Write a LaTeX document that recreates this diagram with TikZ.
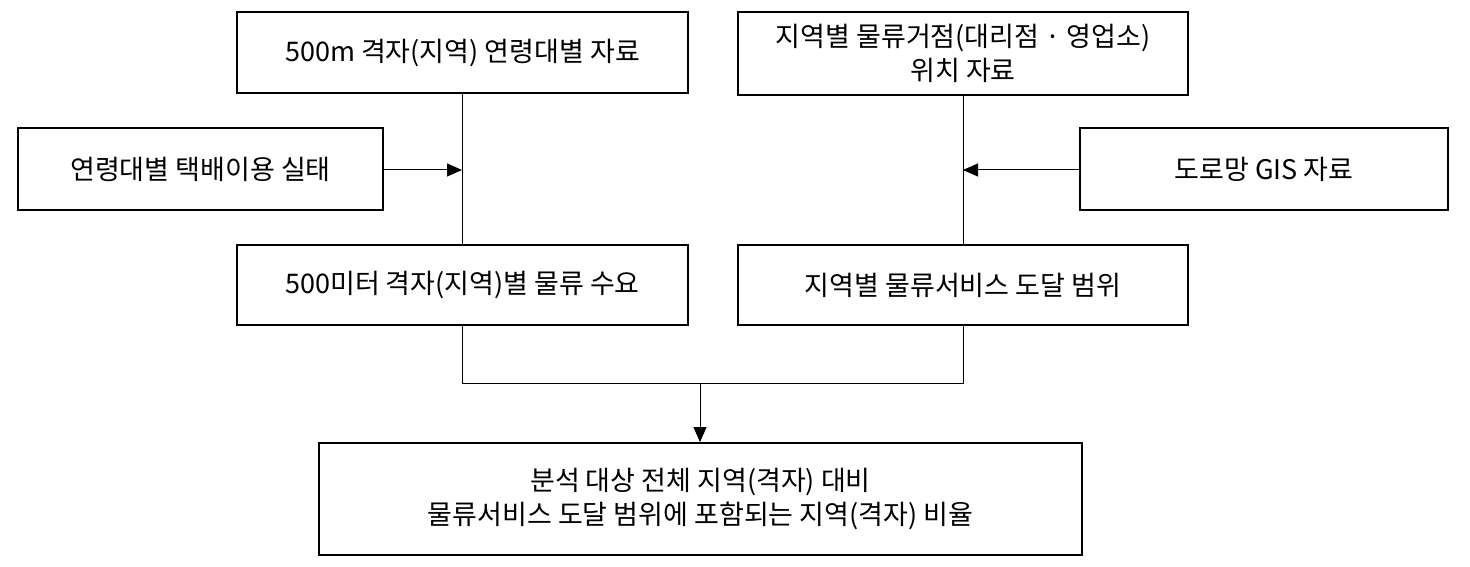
\documentclass[tikz,border=0pt]{standalone}
\usepackage{fontspec}
\setmainfont{Noto Sans CJK KR}
\usetikzlibrary{arrows.meta}
\begin{document}
\begin{tikzpicture}[x=1pt,y=-1pt,
  box/.style={draw,line width=1.8pt,minimum width=#1,align=center,inner sep=0pt,font=\fontsize{27}{34}\selectfont},
  ln/.style={line width=1pt},
  ar/.style={ln,-{Triangle[length=15pt,width=13pt]}}]
\useasboundingbox (0,0) rectangle (1470,567);
\node[box=451pt,minimum height=81pt] (A) at (462.5,52.5) {500m 격자(지역) 연령대별 자료};
\node[box=450pt,minimum height=83pt] (B) at (963,53.5) {지역별 물류거점(대리점 · 영업소)\\위치 자료};
\node[box=365pt,minimum height=82pt] (C) at (200.5,169) {연령대별 택배이용 실태};
\node[box=368pt,minimum height=82pt] (D) at (1264,169) {도로망 GIS 자료};
\node[box=451pt,minimum height=80pt] (E) at (462.5,285) {500미터 격자(지역)별 물류 수요};
\node[box=450pt,minimum height=80pt] (F) at (963,285) {지역별 물류서비스 도달 범위};
\node[box=763pt,minimum height=112pt] (G) at (700.5,499) {분석 대상 전체 지역(격자) 대비\\물류서비스 도달 범위에 포함되는 지역(격자) 비율};
\coordinate (m1) at (462,170);
\coordinate (m2) at (963,170);
\coordinate (j) at (700,383);
\draw[ln] (A.south -| m1) -- (E.north -| m1);
\draw[ln] (B.south -| m2) -- (F.north -| m2);
\draw[ar] (C.east |- m1) -- (m1);
\draw[ar] (D.west |- m2) -- (m2);
\draw[ln] (E.south -| m1) -- (462,383) -- (963,383) -- (F.south -| m2);
\draw[ar] (j) -- (G.north -| j);
\end{tikzpicture}
\end{document}
